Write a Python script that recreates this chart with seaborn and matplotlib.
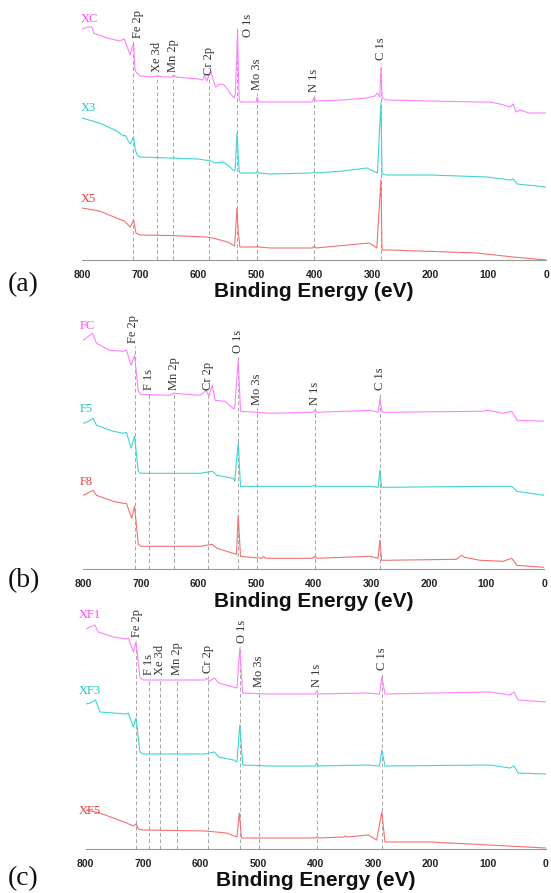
import numpy as np
import pandas as pd
import matplotlib.pyplot as plt
import seaborn as sns
from matplotlib.ticker import MultipleLocator

# ---- panel (a) spectra: binding energy (eV) and intensity (a.u.) ----
xc_energy = [800, 789, 783, 780, 757, 735, 727, 724, 717, 713, 711, 709, 707, 700, 680, 670, 660, 645, 642, 638,
             600, 592, 589, 585, 578, 574, 570, 562, 555, 545, 538, 536, 533.5, 532, 530.5, 529, 527, 520, 500, 498,
             496, 475, 430, 403, 400, 397, 350, 310, 295, 291, 287, 285, 283, 275, 200, 120, 97, 80, 62, 57,
             52, 45, 30, 0]
xc_counts = [91, 93, 93, 87, 82, 79, 81, 76, 65, 74, 76, 52, 48, 44, 43, 44, 43, 43, 45, 43,
             41, 40, 45, 39, 50, 40, 33, 36, 35, 27, 22, 26, 60, 91, 45, 20, 18, 18, 18, 23,
             18, 18, 18, 18, 23, 19, 20, 22, 24, 27, 23, 52, 22, 20, 19, 18, 18, 16, 13, 16,
             8, 10, 7, 7]
x3_energy = [800, 770, 740, 729, 726, 717, 711, 708, 705, 700, 650, 600, 577, 572, 556, 545, 538, 536, 533, 531,
             529, 527, 500, 498, 496, 475, 403, 400, 397, 350, 309, 295, 291, 285, 283, 275, 200, 102, 62, 57,
             50, 0]
x3_counts = [72, 67, 59, 54, 55, 46, 53, 40, 35, 33, 32, 31, 29, 27, 28, 23, 19, 21, 57, 35,
             18, 17, 17, 19, 17, 16, 17, 18, 17, 19, 22, 18, 17, 87, 16, 15, 15, 13, 10, 11,
             6, 3]
x5_energy = [800, 770, 732, 727, 717, 711, 707, 700, 650, 586, 575, 549, 540, 537, 533, 531, 528, 500, 498, 496,
             475, 403, 400, 397, 305, 292, 285, 283, 270, 120, 57, 0]
x5_counts = [52, 49, 40, 39, 33, 40, 27, 25, 24.5, 23, 22, 18, 15, 14, 52, 30, 13, 13, 14, 13,
             12, 12, 14, 12, 17, 12, 80, 10, 10, 7, 3, 0]

# ---- panel (b) spectra ----
fc_energy = [800, 791, 784, 777, 754, 731, 725, 717, 711, 704.5, 700, 650, 643, 597, 586, 582, 576, 571, 554, 540,
             537, 531, 527, 500, 476, 402, 398, 394, 302, 288, 284.8, 281, 276, 111, 97, 71, 56, 47, 0]
fc_counts = [89, 93, 96, 86, 79, 78, 79, 64, 74, 38, 35, 34, 36, 34, 39, 33, 44, 29, 28, 21,
             21, 69, 18, 17, 16, 17, 19, 17, 19, 17, 31, 17, 17, 18, 19, 16, 18, 9, 8]
f5_energy = [800, 791, 783, 777, 748, 730, 725, 717, 711, 704.5, 700, 597, 576, 568, 540, 537, 531, 527, 476, 402,
             398, 394, 302, 288, 285, 282, 276, 97, 56, 47, 0]
f5_counts = [76, 78, 81, 74, 68, 66, 67, 51, 63, 28, 26, 26, 28, 24, 21, 18, 56, 13, 13, 13,
             14, 13, 13, 12, 29, 12, 12, 13, 13, 8, 4]
f8_energy = [800, 783, 777, 748, 731, 725, 716, 711, 704.5, 700, 597, 576, 568, 540, 534, 531, 527, 490, 487, 484,
             476, 402, 398, 394, 302, 288, 285, 282, 276, 152, 143, 138, 111, 71, 56, 47, 0]
f8_counts = [74, 79, 74, 68, 66, 66, 51, 63, 25, 23, 23, 25, 21, 16, 15, 54, 13, 11, 13, 11,
             11, 11, 13, 11, 13, 11, 29, 9, 9, 10, 14, 12, 9, 8, 11, 4, 2]

# ---- panel (c) spectra ----
xf1_energy = [800, 792.5, 784, 778, 752, 729, 726, 717, 712.5, 705.6, 700, 592, 590, 585, 576, 569, 543, 537, 532, 527,
              480, 401, 398, 395, 311, 289, 285, 279.5, 97, 62, 55, 48, 0]
xf1_counts = [80, 82, 84, 77, 72, 70, 71, 57, 67, 31, 29, 29, 31, 28, 31, 26, 22, 21, 61, 16,
              15, 15, 18, 15, 16, 15, 32, 15, 17, 14, 17, 9, 7]
xf3_energy = [800, 792, 783, 775, 752, 729, 726, 717, 712.5, 705.6, 700, 592, 576, 569, 543, 537, 532, 527, 480, 401,
              398, 395, 311, 289, 285, 279.5, 97, 62, 55, 48, 0]
xf3_counts = [75, 76, 79, 67, 66, 65, 66, 52, 61, 27, 25, 25, 27, 22, 19, 17, 54, 14, 13, 13,
              16, 13, 14, 13, 29, 13, 14, 11, 13, 6, 5]
xf5_energy = [800, 775, 729, 717, 712.5, 708.5, 700, 592, 555, 537, 533, 529, 480, 401, 398, 395, 352, 349, 346, 308.5,
              294, 285, 279.5, 201, 132, 0]
xf5_counts = [39, 36, 26, 23, 25, 20, 19, 18, 16, 12, 36, 11, 11, 11, 12, 11, 12, 13, 12, 14,
              9, 37, 7, 7, 5, 1]

# sample names per panel (top to bottom)
samples_a = ["XC", "X3", "X5"]
samples_b = ["FC", "F5", "F8"]
samples_c = ["XF1", "XF3", "XF5"]

# peak assignments per panel
peaks_a = ["Fe 2p", "Xe 3d", "Mn 2p", "Cr 2p", "O 1s", "Mo 3s", "N 1s", "C 1s"]
peak_ev_a = [711.5, 670, 642.5, 582, 533, 498, 401, 285]
peaks_b = ["Fe 2p", "F 1s", "Mn 2p", "Cr 2p", "O 1s", "Mo 3s", "N 1s", "C 1s"]
peak_ev_b = [711, 686, 642.5, 583, 531, 498, 398, 285]
peaks_c = ["Fe 2p", "F 1s", "Xe 3d", "Mn 2p", "Cr 2p", "O 1s", "Mo 3s", "N 1s", "C 1s"]
peak_ev_c = [713, 690, 670, 642, 587, 532, 498, 398, 285]

# label placement (x in eV, bottom of text in intensity units)
lab_x_a = [704, 670, 642.5, 582, 514, 498, 401, 285]
lab_y_a = [222, 188, 188, 185, 223, 170, 168, 200]
lab_x_b = [713, 686, 642.5, 583, 531, 498, 398, 285]
lab_y_b = [226, 179, 179, 179, 216, 164, 164, 179]
lab_x_c = [711, 690, 670, 642, 587, 529, 498, 398, 285]
lab_y_c = [212, 174, 174, 174, 176, 206, 162, 162, 179]

offsets = [140, 70, 0]
name_y = [[241, 152, 61], [243, 160, 87], [234, 158, 38]]
name_x = [803, 807, 813]

line_cols = ["#ff80ff", "#40d4d4", "#f27272"]
text_cols = ["#ff44ff", "#1fc8c8", "#ee3a3a"]

sns.set_style("white")
plt.rcParams["font.family"] = ["Liberation Sans", "DejaVu Sans"]

W, H = 551, 893
fig = plt.figure(figsize=(W / 100, H / 100), dpi=100)

panels = [
    ([xc_energy, x3_energy, x5_energy], [xc_counts, x3_counts, x5_counts], samples_a,
     peaks_a, peak_ev_a, lab_x_a, lab_y_a, (82, 546.3, 260), "(a)", 285),
    ([fc_energy, f5_energy, f8_energy], [fc_counts, f5_counts, f8_counts], samples_b,
     peaks_b, peak_ev_b, lab_x_b, lab_y_b, (83.3, 544, 569.3), "(b)", 581),
    ([xf1_energy, xf3_energy, xf5_energy], [xf1_counts, xf3_counts, xf5_counts], samples_c,
     peaks_c, peak_ev_c, lab_x_c, lab_y_c, (85.7, 545.7, 849), "(c)", 879),
]

for i, (energies, counts, names, peaks, peak_ev, lab_x, lab_y, box, tag, tag_y) in enumerate(panels):
    left, right, base = box
    ax = fig.add_axes([left / W, 1 - base / H, (right - left) / W, 255 / H])
    ax.set_facecolor("none")

    frames = []
    for e, c, n, off in zip(energies, counts, names, offsets):
        frames.append(pd.DataFrame({"energy": e, "counts": np.array(c) + off, "sample": n}))
    df = pd.concat(frames, ignore_index=True)

    # dashed reference lines for the peak positions
    for pev, ly in zip(peak_ev, lab_y):
        ax.plot([pev, pev], [0, ly - 3], color="#a6a6a6", lw=0.7, ls=(0, (4, 2.5)), zorder=1)

    sns.lineplot(data=df, x="energy", y="counts", hue="sample", palette=line_cols,
                 estimator=None, sort=False, legend=False, lw=0.8, ax=ax, zorder=2)

    for p, lx, ly in zip(peaks, lab_x, lab_y):
        ax.text(lx, ly, p, rotation=90, ha="center", va="bottom", fontsize=9,
                family="Liberation Serif", color="#333333", clip_on=False)

    for n, ny, col in zip(names, name_y[i], text_cols):
        ax.text(name_x[i], ny, n, ha="left", va="center", fontsize=9,
                family="Liberation Serif", color=col, clip_on=False)

    ax.set_xlim(800, 0)
    ax.set_ylim(0, 255)
    ax.set_yticks([])
    ax.set_ylabel("")
    for s in ["left", "top", "right"]:
        ax.spines[s].set_visible(False)
    ax.spines["bottom"].set_color("#999999")
    ax.spines["bottom"].set_linewidth(0.8)
    ax.xaxis.set_major_locator(MultipleLocator(100))
    ax.xaxis.set_minor_locator(MultipleLocator(20))
    ax.tick_params(axis="x", which="major", direction="in", length=5, width=0.8,
                   color="#999999", labelsize=7.5, labelcolor="#222222", pad=7)
    ax.tick_params(axis="x", which="minor", direction="in", length=3, width=0.8, color="#999999")
    for lbl in ax.get_xticklabels():
        lbl.set_fontweight("bold")
    ax.set_xlabel("Binding Energy (eV)", fontsize=15, fontweight="bold", color="#111111", labelpad=2)

    fig.text(8 / W, 1 - tag_y / H, tag, ha="left", va="center", fontsize=20,
             family="Liberation Serif", color="#111111")

fig.savefig("out.png", dpi=100)
